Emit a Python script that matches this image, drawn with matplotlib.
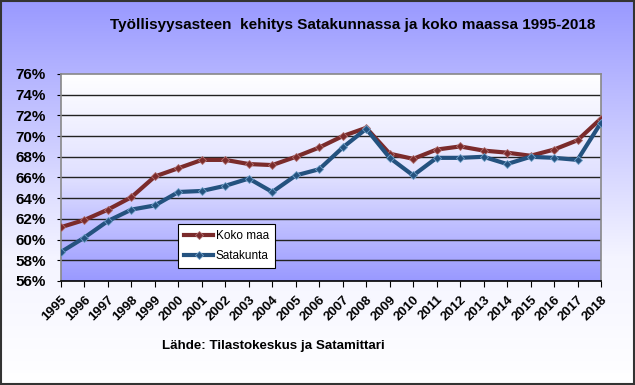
import numpy as np
import matplotlib.pyplot as plt
from matplotlib.colors import LinearSegmentedColormap

plt.rcParams['font.family'] = ['Liberation Sans', 'DejaVu Sans']

# data
years = list(range(1995, 2019))
koko_maa = [61.2, 61.9, 62.9, 64.1, 66.1, 66.9, 67.7, 67.7, 67.3, 67.2, 68.0, 68.9,
            70.0, 70.8, 68.3, 67.8, 68.7, 69.0, 68.6, 68.4, 68.1, 68.7, 69.6, 71.7]
satakunta = [58.8, 60.2, 61.8, 62.9, 63.3, 64.6, 64.7, 65.2, 65.9, 64.6, 66.2, 66.8,
             68.9, 70.7, 67.9, 66.2, 67.9, 67.9, 68.0, 67.3, 68.0, 67.9, 67.7, 71.3]
yticks = list(range(56, 77, 2))

title = "Työllisyysasteen  kehitys Satakunnassa ja koko maassa 1995-2018"
source = "Lähde: Tilastokeskus ja Satamittari"

fig = plt.figure(figsize=(6.35, 3.85), dpi=100)

# figure background gradient
bg = fig.add_axes([0, 0, 1, 1], zorder=-10)
grad = np.linspace(0, 1, 256).reshape(-1, 1)
cm_fig = LinearSegmentedColormap.from_list('f', ['#9999ff', '#c8c8ff', '#f4f4ff', '#ffffff'])
bg.imshow(grad, cmap=cm_fig, aspect='auto', extent=[0, 1, 0, 1], origin='upper')
bg.set_xlim(0, 1)
bg.set_ylim(0, 1)
bg.axis('off')
bg.add_patch(plt.Rectangle((0.001, 0.002), 0.997, 0.996, fill=False, ec='#333333', lw=1.5))

ax = fig.add_axes([61 / 635, 1 - 281 / 385, 540 / 635, 207 / 385])
cm_ax = LinearSegmentedColormap.from_list('a', ['#ffffff', '#e0e0ff', '#9999ff'])
ax.imshow(grad, cmap=cm_ax, aspect='auto', extent=[years[0], years[-1], 56, 76],
          origin='upper', zorder=0)

for v in yticks[1:-1]:
    ax.axhline(v, color='#222222', lw=1.0, zorder=1)

ax.plot(years, koko_maa, color='#7b2b2b', lw=3, marker='D', ms=4,
        mfc='#7b2b2b', mec='#b07070', mew=0.6, label='Koko maa', zorder=3)
ax.plot(years, satakunta, color='#24527f', lw=3, marker='D', ms=4,
        mfc='#24527f', mec='#6fa0c8', mew=0.6, label='Satakunta', zorder=3)

ax.set_xlim(years[0], years[-1])
ax.set_ylim(56, 76)
ax.set_xticks(years)
ax.set_xticklabels([str(y) for y in years], rotation=45, ha='right',
                   rotation_mode='anchor', fontsize=9.5, fontweight='bold')
ax.set_yticks(yticks)
ax.set_yticklabels([f"{v}%" for v in yticks], fontsize=11, fontweight='bold')
ax.tick_params(axis='x', length=4, color='black', pad=5)
ax.tick_params(axis='y', length=3, color='black', pad=8)
for s in ax.spines.values():
    s.set_color('#888888')
    s.set_linewidth(1.2)
ax.spines['bottom'].set_color('black')

leg = ax.legend(loc='lower left', bbox_to_anchor=((178 - 61) / 540, (281 - 268) / 207),
                fontsize=8.5, frameon=True, fancybox=False, handlelength=2.5,
                handletextpad=0.2, borderpad=0.5, labelspacing=0.7, borderaxespad=0)
leg.get_frame().set_edgecolor('black')
leg.get_frame().set_facecolor('white')
leg.get_frame().set_alpha(1)
leg.get_frame().set_linewidth(0.8)

fig.text(353 / 635, 1 - 25 / 385, title, ha='center', va='center',
         fontsize=11, fontweight='bold')
fig.text(162 / 635, 1 - 346 / 385, source, ha='left', va='center',
         fontsize=9.6, fontweight='bold')

fig.savefig('out.png', dpi=100)
